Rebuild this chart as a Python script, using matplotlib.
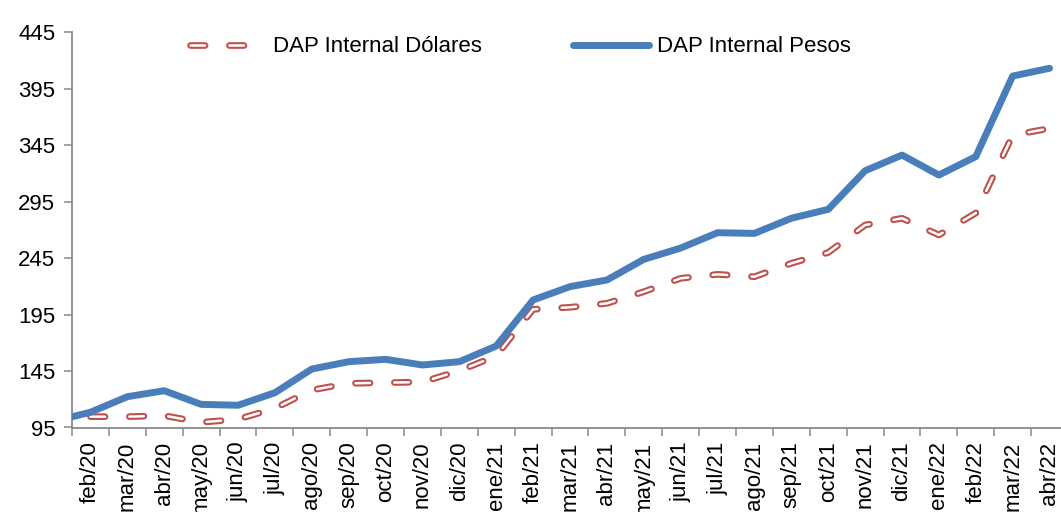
import numpy as np
import matplotlib.pyplot as plt
import matplotlib.patheffects as pe

plt.rcParams['font.family'] = ['Liberation Sans', 'DejaVu Sans']
plt.rcParams['lines.scale_dashes'] = False

# hidden first month (ene/20) only feeds the start of the blue line
meses = ['ene/20', 'feb/20', 'mar/20', 'abr/20', 'may/20', 'jun/20', 'jul/20', 'ago/20', 'sep/20',
         'oct/20', 'nov/20', 'dic/20', 'ene/21', 'feb/21', 'mar/21', 'abr/21', 'may/21',
         'jun/21', 'jul/21', 'ago/21', 'sep/21', 'oct/21', 'nov/21', 'dic/21', 'ene/22',
         'feb/22', 'mar/22', 'abr/22']
pesos = [100.5, 108.5, 122.3, 127.6, 115.5, 114.7, 125.8, 146.8, 153.3,
         155.4, 150.4, 153.3, 167.2, 208.0, 219.8, 225.7, 244.0,
         254.0, 267.6, 267.0, 280.4, 288.3, 322.5, 336.4, 318.7,
         335.0, 406.4, 413.3]
dolares = [np.nan, 104.6, 104.6, 105.5, 99.6, 102.3, 112.0, 128.2, 134.1,
           134.7, 135.3, 145.3, 158.4, 199.7, 201.5, 205.0, 215.3,
           227.2, 230.7, 228.6, 240.5, 250.0, 274.4, 280.4, 265.6,
           285.0, 354.0, 360.0]

x = np.arange(len(meses)) - 1  # ene/20 sits at -1, outside the axis

fig = plt.figure(figsize=(10.61, 5.12), dpi=100)
ax = fig.add_axes([72 / 1061, 1 - 427.5 / 512, 996 / 1061, (427.5 - 32.5) / 512])

rojo = '#C0504D'
azul = '#4A7EBB'

ax.plot(x, dolares, color='white', lw=1.8, dashes=(10.5, 17.5), dash_capstyle='round',
        solid_capstyle='round', label='DAP Internal Dólares',
        path_effects=[pe.Stroke(linewidth=4.8, foreground=rojo), pe.Normal()], zorder=2)
ax.plot(x, pesos, color=azul, lw=5, solid_capstyle='round', label='DAP Internal Pesos', zorder=3)

ax.set_xlim(-0.5, len(meses) - 1.5)
ax.set_ylim(95, 445)
ax.set_yticks(np.arange(95, 446, 50))

n = len(meses) - 1
ax.set_xticks(np.arange(n + 1) - 0.5)
ax.set_xticklabels([])
ax.set_xticks(np.arange(n), minor=True)
ax.set_xticklabels(meses[1:], minor=True, rotation=90, fontsize=16)
ax.tick_params(axis='x', which='minor', length=0, pad=10)
ax.tick_params(axis='x', which='major', length=6, width=1.1, color='#898989', direction='out')
ax.tick_params(axis='y', length=6, width=1.1, color='#898989', direction='out', labelsize=16, pad=6)

for s in ['top', 'right']:
    ax.spines[s].set_visible(False)
for s in ['left', 'bottom']:
    ax.spines[s].set_color('#898989')
    ax.spines[s].set_linewidth(1.3)

fig.legend(loc='center left', bbox_to_anchor=(190 / 1061, 1 - 47 / 512), ncol=2, frameon=False,
           fontsize=16, handlelength=3.4, handletextpad=0.35, columnspacing=4.1,
           borderpad=0, borderaxespad=0)

fig.savefig('out.png', dpi=100)
